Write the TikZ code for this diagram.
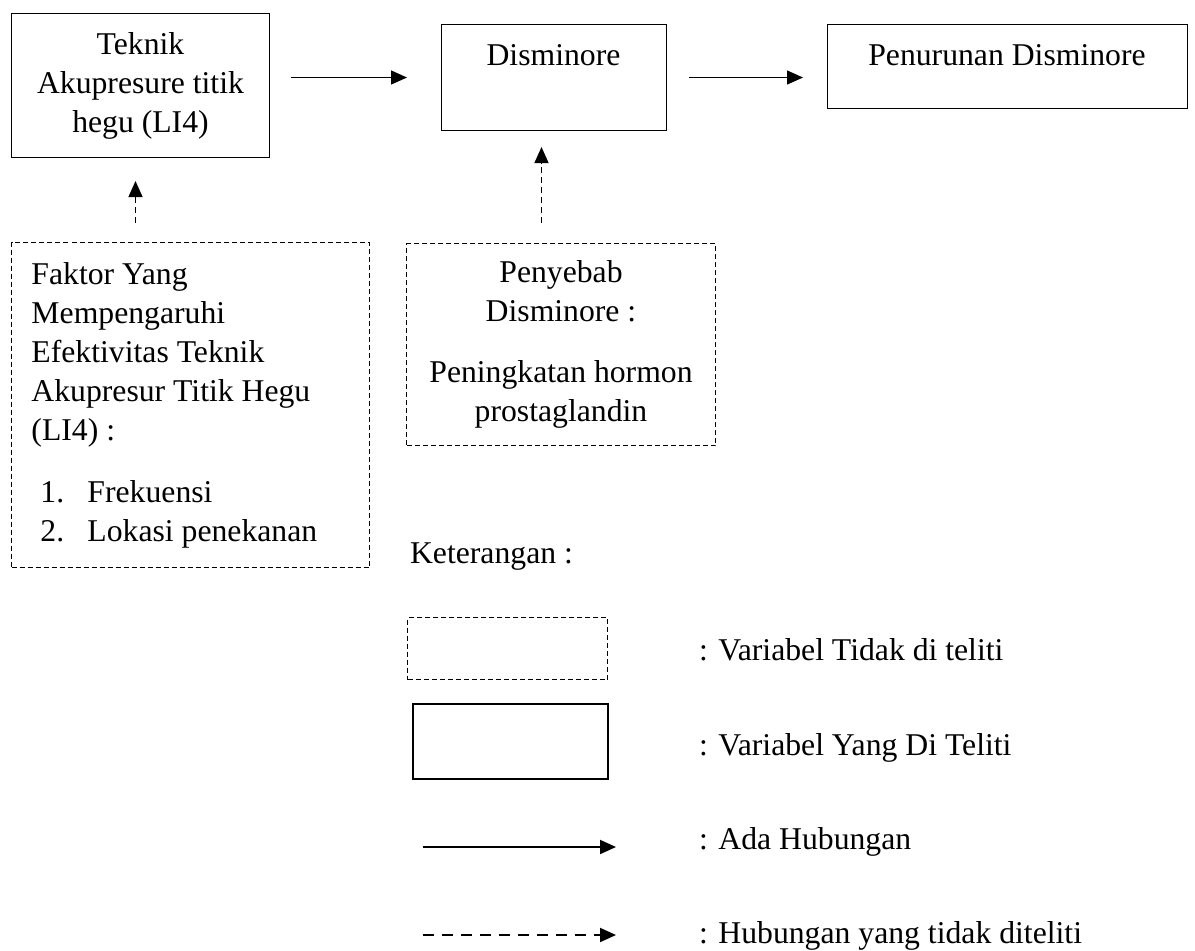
\documentclass[tikz,border=0pt]{standalone}
\usepackage{fontspec}
\setmainfont{Liberation Serif}
\usetikzlibrary{arrows.meta}

\begin{document}
\begin{tikzpicture}[x=0.5pt, y=-0.5pt,
        font=\fontsize{15.85}{19.5}\selectfont,
        varbox/.style={draw, line width=0.5pt, inner sep=0pt},
        dashbox/.style={draw, line width=0.5pt, dash pattern=on 2.5pt off 1.5pt, inner sep=0pt},
        arr/.style={line width=0.6pt, -{Triangle[length=8pt, width=7pt]}},
        dasharr/.style={arr, dash pattern=on 3pt off 2pt}]
        \useasboundingbox (0,0) rectangle (1195,950);
        \node[varbox, anchor=north west, minimum width=129pt, minimum height=72pt, align=center] (teknik) at (11,13) {Teknik\\ Akupresure titik\\ hegu (LI4)};
        \node[varbox, anchor=north west, minimum width=112.5pt, minimum height=53pt] (dism) at (441,24) {};
        \node[anchor=base] (dismtxt) at (553.5,65) {Disminore};
        \node[varbox, anchor=north west, minimum width=180pt, minimum height=42pt] (pen) at (827,24) {};
        \node[anchor=base] (pentxt) at (1007,65) {Penurunan Disminore};
        \node[dashbox, anchor=north west, text width=159pt, inner xsep=10pt, minimum height=162.5pt, align=flush left] (faktor) at (11,242) {Faktor Yang\\ Mempengaruhi\\ Efektivitas Teknik\\ Akupresur Titik Hegu\\ (LI4) :\\[11.5pt] \hspace*{4.5pt}\makebox[23.5pt][l]{1.}Frekuensi\\ \hspace*{4.5pt}\makebox[23.5pt][l]{2.}Lokasi penekanan};
        \node[dashbox, anchor=north west, minimum width=154.5pt, minimum height=101pt, align=center] (peny) at (406,243) {Penyebab\\ Disminore :\\[11pt] Peningkatan hormon\\ prostaglandin};
        \coordinate (tk) at ([xshift=-2.5pt]teknik.south);
        \coordinate (ds) at ([xshift=-6.25pt]dism.south);
        \draw[arr, shorten <=10.5pt, shorten >=17pt] (teknik.east |- dism.west) -- (dism.west);
        \draw[arr, shorten <=11pt, shorten >=12pt] (dism.east) -- (dism.east -| pen.west);
        \draw[dasharr, shorten <=9.5pt, shorten >=11.5pt] (tk |- faktor.north) -- (tk);
        \draw[dasharr, shorten <=10pt, shorten >=8pt] (ds |- peny.north) -- (ds);
        % keterangan
        \node[anchor=base west] (ket) at (403,563) {Keterangan :};
        \node[dashbox, anchor=north west, minimum width=100pt, minimum height=31pt] (lgdash) at (407,617) {};
        \node[varbox, line width=1pt, anchor=north west, minimum width=97.5pt, minimum height=37.5pt] (lgsolid) at (412,703) {};
        \coordinate (lga1) at (423,847);
        \coordinate (lga2) at (616,847);
        \coordinate (lgb1) at (423,935);
        \coordinate (lgb2) at (616,935);
        \draw[arr, line width=1pt] (lga1) -- (lga2);
        \draw[dasharr, line width=1pt, dash pattern=on 5.5pt off 4pt] (lgb1) -- (lgb2);
        \node[anchor=base west] (lgtxt1) at (692,660) {: Variabel Tidak di teliti};
        \node[anchor=base west] (lgtxt2) at (692,755) {: Variabel Yang Di Teliti};
        \node[anchor=base west] (lgtxt3) at (692,849) {: Ada Hubungan};
        \node[anchor=base west] (lgtxt4) at (692,943) {: Hubungan yang tidak diteliti};
    \end{tikzpicture}
\end{document}
